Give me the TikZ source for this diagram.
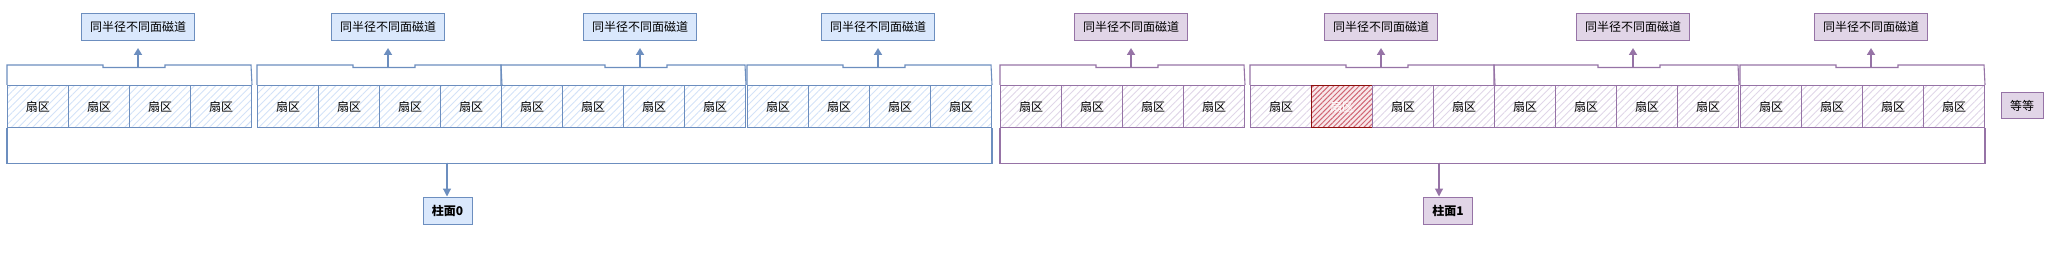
\documentclass[tikz,border=0pt]{standalone}
\usepackage{fontspec}
\setmainfont{Noto Sans CJK SC}
\usetikzlibrary{patterns.meta,arrows.meta}
\definecolor{bstroke}{HTML}{6C8EBF}
\definecolor{bfill}{HTML}{DAE8FC}
\definecolor{bhatch}{HTML}{D3E2F8}
\definecolor{pstroke}{HTML}{9673A6}
\definecolor{pfill}{HTML}{E1D5E7}
\definecolor{phatch}{HTML}{E0D6E8}
\definecolor{rstroke}{HTML}{8E1010}
\definecolor{rhatch}{HTML}{D06674}
\begin{document}
\begin{tikzpicture}[x=1pt,y=-1pt,font=\fontsize{12}{14}\selectfont,
  sector/.style={draw,line width=1pt,minimum width=61pt,minimum height=42pt,
    inner sep=0pt,anchor=north west,
    pattern={Lines[angle=45,distance=5pt,line width=0.9pt]}},
  bsector/.style={sector,draw=bstroke,pattern color=bhatch},
  psector/.style={sector,draw=pstroke,pattern color=phatch},
  rsector/.style={draw=rstroke,line width=1.4pt,minimum width=61pt,minimum height=42pt,
    inner sep=0pt,anchor=north west,text=white,
    preaction={fill=rhatch!15},
    pattern={Lines[angle=45,distance=3.6pt,line width=1pt]},pattern color=rhatch},
  bline/.style={draw=bstroke,line width=1.1pt},
  pline/.style={draw=pstroke,line width=1.1pt},
  blabel/.style={draw=bstroke,fill=bfill,line width=1pt,minimum width=113pt,minimum height=27pt,inner sep=0pt},
  plabel/.style={draw=pstroke,fill=pfill,line width=1pt,minimum width=113pt,minimum height=27pt,inner sep=0pt},
  uparrow/.style={-{Triangle[width=8pt,length=7pt]},line width=1.8pt,shorten >=7pt},
  downarrow/.style={-{Triangle[width=8pt,length=8pt]},line width=1.2pt},
]
\useasboundingbox (0,0) rectangle (2052,259);
\foreach \i/\xs/\ao/\col in {1/7/131/b,2/257/131/b,3/501/139/b,4/747/131/b,
                             5/1000/131/p,6/1250/131/p,7/1494/139/p,8/1740/131/p}{
  \foreach \k in {0,...,3}{
    \ifnum\i\k=61 \def\sty{rsector}\else\def\sty{\col sector}\fi
    \node[\sty] (s\i-\k) at (\xs+61*\k,85) {扇区};
  }
  \draw[\col line] (s\i-0.north west) -- (\xs,65) -- (\xs+\ao-35,65) -- (\xs+\ao-35,67.5)
     -- (\xs+\ao+27,67.5) -- (\xs+\ao+27,65) -- (\xs+244,65) -- (s\i-3.north east);
  \coordinate (n\i) at (\xs+\ao,67.5);
  \node[\col label] (l\i) at (\xs+\ao,27) {同半径不同面磁道};
  \draw[uparrow,draw=\col stroke,fill=\col stroke] (n\i) -- (l\i);
}
% cylinder brackets
\draw[bline] (s1-0.south west) -- ++(0,35.5) -| (s4-3.south east);
\draw[pline] (s5-0.south west) -- ++(0,35.5) -| (s8-3.south east);
\coordinate (c0) at (447,162.5);
\coordinate (c1) at (1439,162.5);
\node[draw=bstroke,fill=bfill,line width=1pt,minimum width=49pt,minimum height=27pt,inner sep=0pt]
  (z0) at (447.5,210.5) {\bfseries 柱面0};
\node[draw=pstroke,fill=pfill,line width=1pt,minimum width=49pt,minimum height=27pt,inner sep=0pt]
  (z1) at (1448,210.5) {\bfseries 柱面1};
\draw[downarrow,draw=bstroke,fill=bstroke] (c0) -- (c0 |- z0.north);
\draw[downarrow,draw=pstroke,fill=pstroke] (c1) -- (c1 |- z1.north);
\node[draw=pstroke,fill=pfill,line width=1pt,minimum width=42pt,minimum height=26pt,inner sep=0pt]
  (etc) at (2022,106) {等等};
\end{tikzpicture}
\end{document}
